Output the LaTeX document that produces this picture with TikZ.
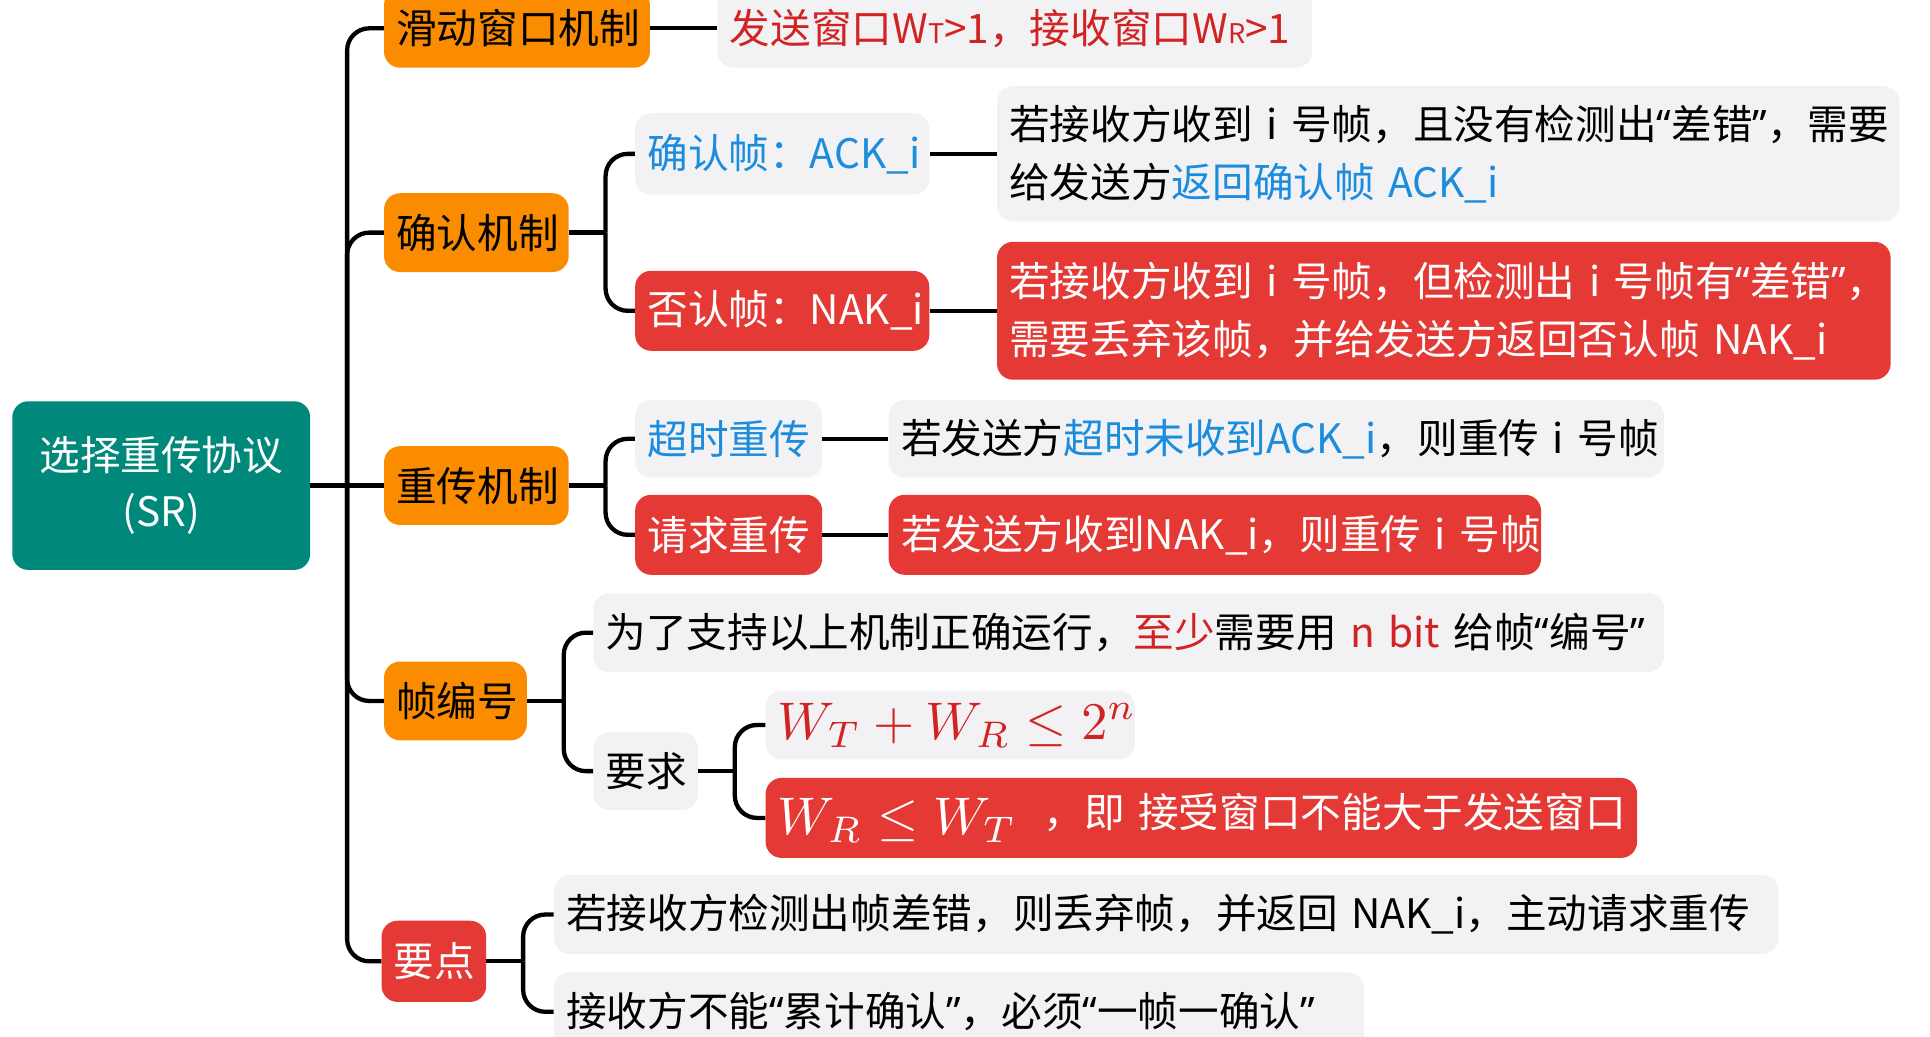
\documentclass[tikz,border=0pt]{standalone}
\usepackage{graphicx}
\usepackage{fontspec}
\setmainfont{Noto Sans CJK SC}
\newfontfamily\latinq{Noto Sans}
\definecolor{orbg}{RGB}{251,140,0}
\definecolor{rdbg}{RGB}{229,57,53}
\definecolor{gybg}{RGB}{242,242,245}
\definecolor{tealbg}{RGB}{0,137,123}
\definecolor{bluetx}{RGB}{28,140,220}
\definecolor{redtx}{RGB}{210,35,35}
\newcommand{\bl}[1]{\textcolor{bluetx}{#1}}
\newcommand{\rd}[1]{\textcolor{redtx}{#1}}
\newcommand{\ql}{{\latinq “}}
\newcommand{\qr}{{\latinq ”}}
\newcommand{\smallsub}[1]{{\fontsize{22}{22}\selectfont #1}}
\newcommand{\bigmath}[1]{\raisebox{-0.18em}{\scalebox{4.3}{\fontsize{10}{12}\selectfont $#1$}}}
\tikzset{
  conn/.style={draw=black, line width=3.5pt, rounded corners=18pt},
  box/.style={rounded corners=13pt, inner xsep=10pt, inner ysep=0pt,
    font=\fontsize{33}{47}\selectfont, align=left, anchor=center},
  orangebox/.style={box, fill=orbg, text=black},
  redbox/.style={box, fill=rdbg, text=white},
  graybox/.style={box, fill=gybg, text=black},
  rootbox/.style={box, fill=tealbg, text=white, align=center},
}
\begin{document}
\begin{tikzpicture}[x=1pt,y=-1pt]
\useasboundingbox[fill=white] (0,0) rectangle (1568,842);

% root
\node[rootbox, text width=222pt, minimum height=137pt, font=\fontsize{33}{46}\selectfont] (root) at (131,394.5) {选择重传协议\\(SR)};

% level 1
\node[orangebox, text width=196pt, minimum height=64pt] (n1) at (420,23) {滑动窗口机制};
\node[orangebox, text width=130pt, minimum height=64pt] (n2) at (387,189) {确认机制};
\node[orangebox, text width=130pt, minimum height=64pt] (n3) at (387,394.5) {重传机制};
\node[orangebox, text width=96pt, minimum height=64pt] (n4) at (370,569.5) {帧编号};
\node[redbox, text width=65pt, minimum height=66pt] (n5) at (352.5,781) {要点};

% sliding window
\node[graybox, text width=463pt, minimum height=64pt] (a1) at (824.5,23)
  {\mbox{\rd{发送窗口W\smallsub{T}>1，接收窗口W\smallsub{R}>1}}};

% ack mechanism
\node[graybox, text width=219pt, minimum height=66pt] (b1) at (635.5,125) {\mbox{\bl{确认帧：ACK\_i}}};
\node[redbox, text width=219pt, minimum height=65pt] (b2) at (635.5,252.5) {\mbox{否认帧：NAK\_i}};
\node[graybox, text width=713pt, minimum height=110pt] (b1t) at (1176.5,125)
  {\mbox{若接收方收到 i 号帧，且没有检测出\ql 差错\qr，需要}\\\mbox{给发送方\bl{返回确认帧 ACK\_i}}};
\node[redbox, text width=706pt, minimum height=112pt] (b2t) at (1173,252.5)
  {\mbox{若接收方收到 i 号帧，但检测出 i 号帧有\ql 差错\qr，}\\\mbox{需要丢弃该帧，并给发送方返回否认帧 NAK\_i}};

% retransmission
\node[graybox, text width=132pt, minimum height=63pt] (c1) at (592,356.5) {\bl{超时重传}};
\node[redbox, text width=132pt, minimum height=65pt] (c2) at (592,434.5) {请求重传};
\node[graybox, text width=610pt, minimum height=63pt] (c1t) at (1037,356.5)
  {\mbox{若发送方\bl{超时未收到ACK\_i}，则重传 i 号帧}};
\node[redbox, text width=510pt, minimum height=65pt] (c2t) at (987,434.5)
  {\mbox{若发送方收到NAK\_i，则重传 i 号帧}};

% frame numbering
\node[graybox, text width=850pt, minimum height=64pt] (d1) at (917,514)
  {\mbox{为了支持以上机制正确运行，\rd{至少}需要用 \rd{n bit} 给帧\ql 编号\qr}};
\node[graybox, text width=65pt, minimum height=63pt] (d2) at (524.5,626.5) {要求};
\node[graybox, text width=280pt, minimum height=56pt, text=redtx] (e1) at (772,589)
  {\mbox{\bigmath{W_T + W_R \leq 2^n}}};
\node[redbox, text width=688pt, minimum height=65pt] (e2) at (976,664.5)
  {\mbox{\bigmath{W_R \leq W_T}\ \ ，即 接受窗口不能大于发送窗口}};

% key points
\node[graybox, text width=975pt, minimum height=64pt] (f1) at (947.5,743)
  {\mbox{若接收方检测出帧差错，则丢弃帧，并返回 NAK\_i，主动请求重传}};
\node[graybox, text width=638pt, minimum height=64pt] (f2) at (779,822)
  {\mbox{接收方不能\ql 累计确认\qr，必须\ql 一帧一确认\qr}};

% connectors
\coordinate (t0) at (282,394.5);
\draw[conn] (root.east) -- (n3.west);
\draw[conn] (t0) |- (n1.west);
\draw[conn] (t0) |- (n2.west);
\draw[conn] (t0) |- (n4.west);
\draw[conn] (t0) |- (n5.west);

\draw[conn] (n1.east) -- (a1.west);

\coordinate (t2) at (492,189);
\draw[conn] (n2.east) -- (t2);
\draw[conn] (t2) |- (b1.west);
\draw[conn] (t2) |- (b2.west);
\draw[conn] (b1.east) -- (b1t.west);
\draw[conn] (b2.east) -- (b2t.west);

\coordinate (t3) at (492,394.5);
\draw[conn] (n3.east) -- (t3);
\draw[conn] (t3) |- (c1.west);
\draw[conn] (t3) |- (c2.west);
\draw[conn] (c1.east) -- (c1t.west);
\draw[conn] (c2.east) -- (c2t.west);

\coordinate (t4) at (458,569.5);
\draw[conn] (n4.east) -- (t4);
\draw[conn] (t4) |- (d1.west);
\draw[conn] (t4) |- (d2.west);

\coordinate (t5) at (597,626.5);
\draw[conn] (d2.east) -- (t5);
\draw[conn] (t5) |- (e1.west);
\draw[conn] (t5) |- (e2.west);

\coordinate (t6) at (425,781);
\draw[conn] (n5.east) -- (t6);
\draw[conn] (t6) |- (f1.west);
\draw[conn] (t6) |- (f2.west);
\end{tikzpicture}
\end{document}
